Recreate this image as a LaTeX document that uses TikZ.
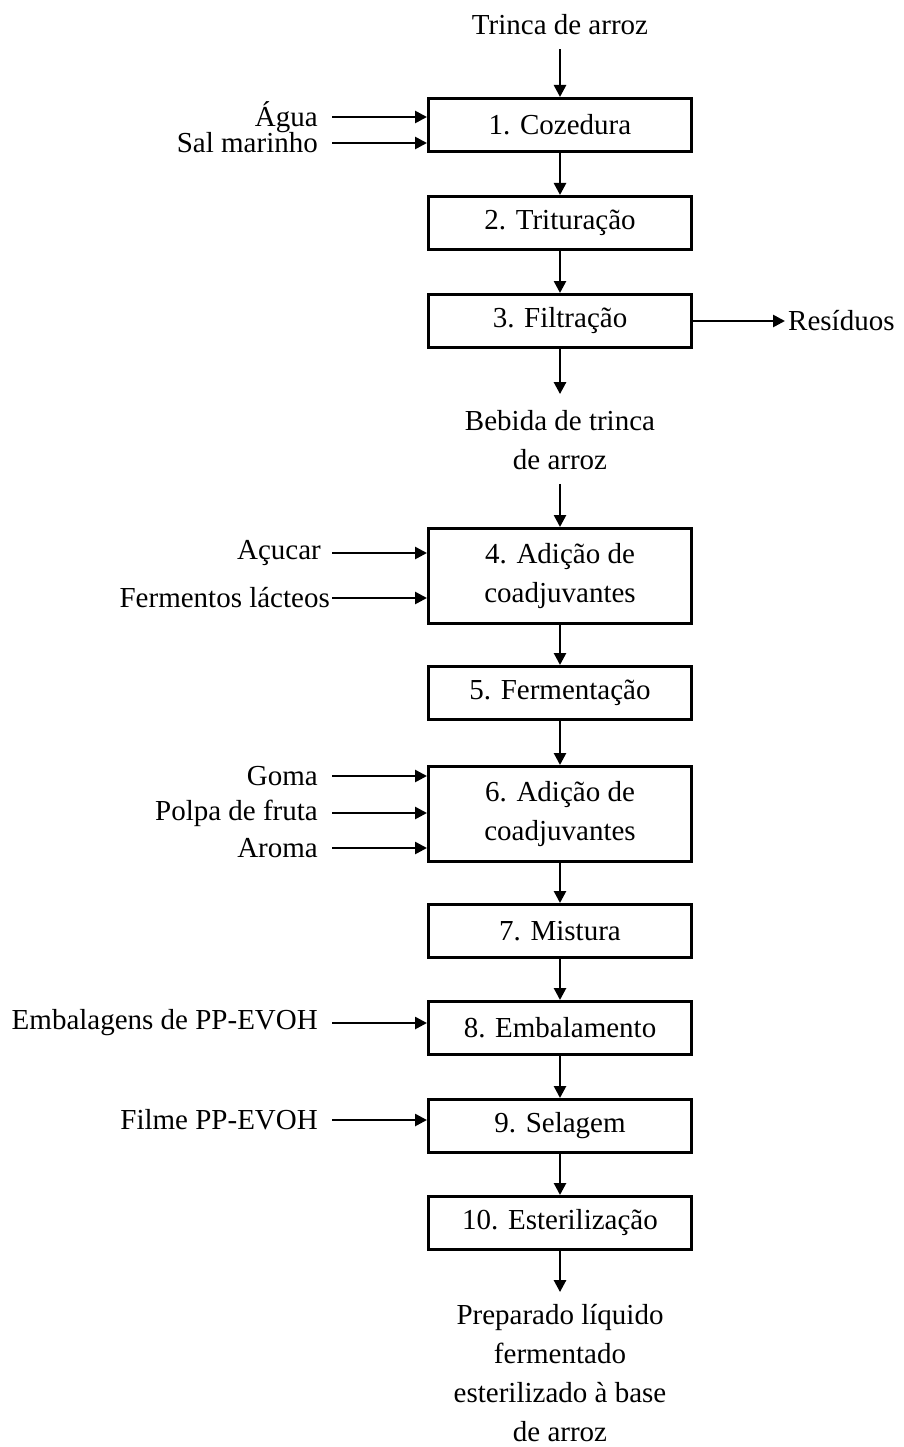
\documentclass[tikz,border=0pt]{standalone}
\usepackage{fontspec}
\setmainfont{Liberation Serif}
\usetikzlibrary{arrows.meta}
\tikzset{
  proc/.style={draw, line width=3pt, minimum width=263pt, minimum height=53pt, align=center, inner sep=2pt},
  proc2/.style={proc, minimum height=95pt},
  txt/.style={align=center, inner sep=0pt},
  inp/.style={anchor=east, inner sep=0pt},
  flow/.style={-{Triangle[length=12pt,width=12pt]}, line width=2.6pt},
  fromtxt/.style={flow, shorten <=14pt},
}

\begin{document}
\begin{tikzpicture}[x=1pt, y=-1pt, every node/.style={font=\fontsize{29}{39}\selectfont}]
\useasboundingbox (0,0) rectangle (904,1447);
% main line
\node[txt] (trinca) at (560,25) {Trinca de arroz};
\node[proc] (c1) at (560,125) {1. Cozedura};
\node[proc] (c2) at (560,223) {2. Trituração};
\node[proc] (c3) at (560,321) {3. Filtração};
\node[txt] (bebida) at (560,440) {Bebida de trinca\\de arroz};
\node[proc2] (c4) at (560,576) {4. Adição de\\coadjuvantes};
\node[proc] (c5) at (560,693) {5. Fermentação};
\node[proc2] (c6) at (560,814) {6. Adição de\\coadjuvantes};
\node[proc] (c7) at (560,931) {7. Mistura};
\node[proc] (c8) at (560,1028) {8. Embalamento};
\node[proc] (c9) at (560,1126) {9. Selagem};
\node[proc] (c10) at (560,1223) {10. Esterilização};
\node[txt] (prep) at (560,1373) {Preparado líquido\\fermentado\\esterilizado à base\\de arroz};
% inputs and outputs
\coordinate (inL) at (332,0);
\node[inp] (agua) at (318,117) {Água};
\node[inp] (sal) at (318,143) {Sal marinho};
\node[inp] (acucar) at (321,553) {Açucar};
\node[inp] (ferm) at (330,598) {Fermentos lácteos};
\node[inp] (goma) at (318,776) {Goma};
\node[inp] (polpa) at (318,813) {Polpa de fruta};
\node[inp] (aroma) at (318,848) {Aroma};
\node[inp] (embal) at (318,1023) {Embalagens de PP-EVOH};
\node[inp] (filme) at (318,1120) {Filme PP-EVOH};
\node[anchor=west, inner sep=0pt] (resid) at (788,321) {Resíduos};

\draw[fromtxt] (trinca) -- (c1);
\draw[flow] (c1) -- (c2);
\draw[flow] (c2) -- (c3);
\draw[flow, shorten >=16pt] (c3) -- (bebida);
\draw[fromtxt] (bebida) -- (c4);
\draw[flow] (c4) -- (c5);
\draw[flow] (c5) -- (c6);
\draw[flow] (c6) -- (c7);
\draw[flow] (c7) -- (c8);
\draw[flow] (c8) -- (c9);
\draw[flow] (c9) -- (c10);
\draw[flow, shorten >=12pt] (c10) -- (prep);
\draw[flow, shorten >=3pt] (c3.east) -- (c3.east -| resid.west);
\draw[flow] (agua.east -| inL) -- (agua.east -| c1.west);
\draw[flow] (sal.east -| inL) -- (sal.east -| c1.west);
\draw[flow] (acucar.east -| inL) -- (acucar.east -| c4.west);
\draw[flow] (ferm.east -| inL) -- (ferm.east -| c4.west);
\draw[flow] (goma.east -| inL) -- (goma.east -| c6.west);
\draw[flow] (polpa.east -| inL) -- (polpa.east -| c6.west);
\draw[flow] (aroma.east -| inL) -- (aroma.east -| c6.west);
\draw[flow] (embal.east -| inL) -- (embal.east -| c8.west);
\draw[flow] (filme.east -| inL) -- (filme.east -| c9.west);
\end{tikzpicture}
\end{document}
